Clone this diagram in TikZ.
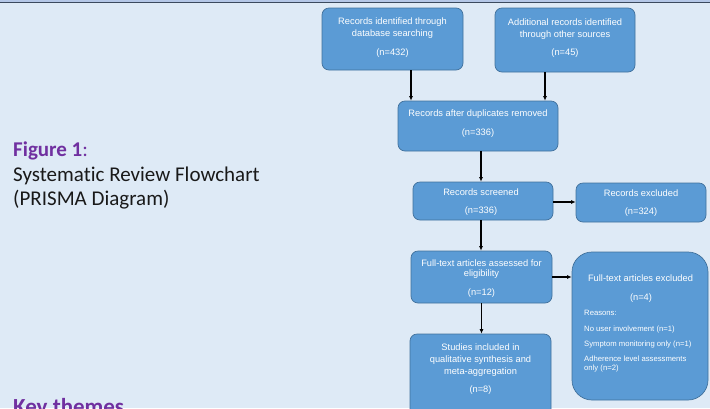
\documentclass[tikz,border=0pt]{standalone}
\usepackage{fontspec}
\setmainfont{Carlito}[Ligatures=NoCommon]
\newfontfamily\boxfont{Liberation Sans}
\usetikzlibrary{arrows.meta}
\definecolor{bgc}{HTML}{DEEAF6}
\definecolor{boxfill}{HTML}{5B9BD5}
\definecolor{boxborder}{HTML}{41719C}
\definecolor{topstrip}{HTML}{B4C7E7}
\definecolor{topline}{HTML}{3B4A5E}
\definecolor{purp}{HTML}{7030A0}
\tikzset{
  box/.style={draw=boxborder, fill=boxfill, rounded corners=7pt, line width=0.7pt, inner sep=0pt},
  btxt/.style={text=white, inner sep=0pt, anchor=center, text height=6.6pt, text depth=0pt,
    font=\boxfont\fontsize{9.3}{11}\selectfont},
  stxt/.style={text=white, inner sep=0pt, anchor=west, text height=5.5pt, text depth=0pt,
    font=\boxfont\fontsize{7.7}{9}\selectfont},
  arr/.style={-{Latex[length=4.5pt,width=4pt]}, line width=1.2pt, black},
  lefttxt/.style={anchor=base west, inner sep=0pt, font=\fontsize{21}{25}\selectfont},
}
\begin{document}
\begin{tikzpicture}[x=1pt,y=-1pt]
\useasboundingbox (0,0) rectangle (710,408);
\fill[bgc] (0,0) rectangle (710,408);
\fill[topstrip] (0,0) rectangle (710,2);
\draw[topline, line width=1.2pt] (0,2.6) -- (710,2.6);

% left texts
\node[lefttxt] (fig) at (13,156.5)
  {\textcolor{purp}{\textbf{Figure 1}:}};
\node[lefttxt, text=black!90] (t1) at (13,181.5)
  {Systematic Review Flowchart};
\node[lefttxt, text=black!90] (t2) at (13,205.5)
  {(PRISMA Diagram)};
\node[anchor=base west, inner sep=0pt, font=\fontsize{23}{27}\selectfont\bfseries, text=purp] (kt) at (13,414)
  {Key themes};

% boxes
\node[box, minimum width=141pt, minimum height=62pt] (b1) at (392.5,39) {};
\node[box, minimum width=140pt, minimum height=64pt] (b2) at (565,40) {};
\node[box, minimum width=160pt, minimum height=50pt] (b3) at (478,126) {};
\node[box, minimum width=140pt, minimum height=38pt] (b4) at (483,201) {};
\node[box, minimum width=130pt, minimum height=39pt] (b5) at (641,202.5) {};
\node[box, minimum width=141pt, minimum height=52pt] (b6) at (481.5,277) {};
\node[box, rounded corners=20pt, minimum width=136pt, minimum height=148pt] (b7) at (640,326) {};
\node[box, minimum width=141pt, minimum height=86pt] (b8) at (480.5,377) {};

% box texts
\node[btxt] (b1a) at (392.5,21) {Records identified through};
\node[btxt] (b1b) at (392.5,33) {database searching};
\node[btxt] (b1c) at (392.5,52) {(n=432)};
\node[btxt] (b2a) at (565,22) {Additional records identified};
\node[btxt] (b2b) at (565,34) {through other sources};
\node[btxt] (b2c) at (565,52) {(n=45)};
\node[btxt] (b3a) at (478,113) {Records after duplicates removed};
\node[btxt] (b3b) at (478,132) {(n=336)};
\node[btxt] (b4a) at (481,192) {Records screened};
\node[btxt] (b4b) at (481,210) {(n=336)};
\node[btxt] (b5a) at (641,193) {Records excluded};
\node[btxt] (b5b) at (641,211) {(n=324)};
\node[btxt] (b6a) at (481.5,263) {Full-text articles assessed for};
\node[btxt] (b6b) at (481.5,273) {eligibility};
\node[btxt] (b6c) at (481.5,292) {(n=12)};
\node[btxt] (b7a) at (640.5,278) {Full-text articles excluded};
\node[btxt] (b7b) at (641,297) {(n=4)};
\node[stxt] (r1) at (584,313) {Reasons:};
\node[stxt] (r2) at (584,329) {No user involvement (n=1)};
\node[stxt] (r3) at (584,344) {Symptom monitoring only (n=1)};
\node[stxt] (r4) at (584,359) {Adherence level assessments};
\node[stxt] (r5) at (584,368) {only (n=2)};
\node[btxt] (b8a) at (480.5,347) {Studies included in};
\node[btxt] (b8b) at (480.5,359) {qualitative synthesis and};
\node[btxt] (b8c) at (480.5,371) {meta-aggregation};
\node[btxt] (b8d) at (480.5,389) {(n=8)};

% connectors
\draw[arr] ([xshift=18.5pt]b1.south) -- ([xshift=18.5pt]b1.south |- b3.north);
\draw[arr] ([xshift=-20pt]b2.south) -- ([xshift=-20pt]b2.south |- b3.north);
\draw[arr] ([xshift=3pt]b3.south) -- ([xshift=3pt]b3.south |- b4.north);
\draw[arr] ([xshift=-2pt]b4.south) -- ([xshift=-2pt]b4.south |- b6.north);
\draw[arr] (b6.south) -- (b6.south |- b8.north);
\draw[arr] ([yshift=-1pt]b4.east) -- ([yshift=-1pt]b4.east -| b5.west);
\draw[arr] (b6.east) -- (b6.east -| b7.west);
\end{tikzpicture}
\end{document}
